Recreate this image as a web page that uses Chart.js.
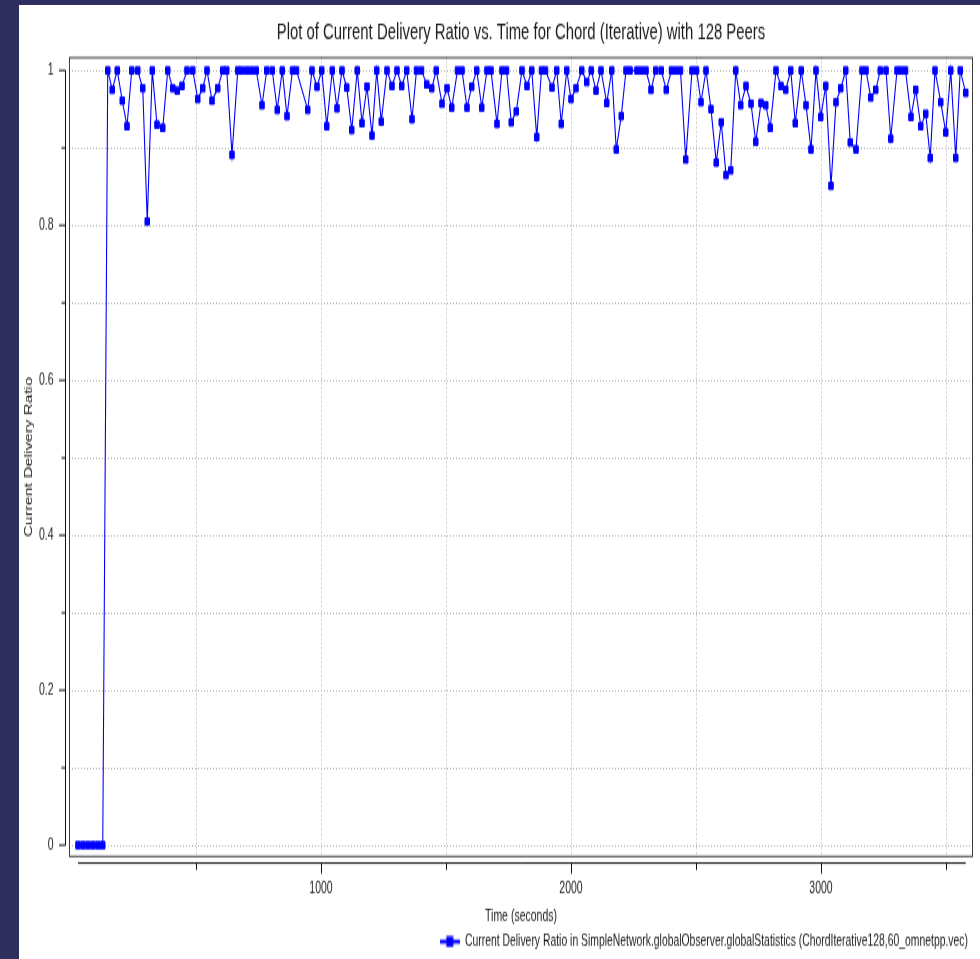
<!DOCTYPE html>
<html>
<head>
<meta charset="utf-8">
<title>Current Delivery Ratio vs. Time</title>
<script src="https://cdn.jsdelivr.net/npm/chart.js@4.4.1/dist/chart.umd.min.js"></script>
<style>
  html, body { margin: 0; padding: 0; width: 980px; height: 959px; overflow: hidden; background: #2f2f5f; }
  #sheet { position: absolute; left: 19px; top: 5px; right: 0; bottom: 0; background: #ffffff; overflow: hidden; }
  /* the plot is laid out on a short canvas and shown stretched vertically */
  #plot { transform: scaleY(1.55); transform-origin: 0 0; }
  canvas { display: block; }
</style>
</head>
<body>
<div id="sheet"><div id="plot"><canvas id="chart" width="961" height="620"></canvas></div></div>
<script>
// Recorded vector: simulation time (s) and current delivery ratio
const timeSec = [
  28, 48, 68, 88, 108, 127,
  147, 165, 185, 205, 224, 243, 267, 287, 305, 325,
  344, 367, 387, 407, 425, 444, 464, 487, 507, 527,
  544, 564, 587, 607, 623, 644, 667, 683, 703, 722,
  741, 764, 783, 805, 825, 845, 864, 886, 902, 947,
  964, 984, 1003, 1023, 1045, 1064, 1084, 1103, 1123, 1145,
  1164, 1184, 1204, 1223, 1241, 1264, 1284, 1304, 1323, 1343,
  1364, 1382, 1402, 1423, 1443, 1461, 1484, 1504, 1523, 1546,
  1564, 1584, 1603, 1623, 1643, 1664, 1680, 1704, 1724, 1742,
  1761, 1781, 1804, 1824, 1843, 1863, 1882, 1898, 1924, 1943,
  1961, 1983, 2000, 2020, 2043, 2063, 2081, 2100, 2120, 2143,
  2163, 2181, 2201, 2220, 2236, 2264, 2282, 2300, 2320, 2339,
  2361, 2381, 2402, 2420, 2438, 2459, 2484, 2502, 2520, 2540,
  2560, 2581, 2601, 2620, 2639, 2659, 2679, 2700, 2720, 2739,
  2760, 2779, 2797, 2820, 2840, 2859, 2879, 2897, 2921, 2940,
  2960, 2980, 2999, 3019, 3040, 3060, 3079, 3099, 3117, 3140,
  3164, 3180, 3199, 3219, 3237, 3260, 3279, 3304, 3320, 3338,
  3360, 3379, 3399, 3419, 3437, 3456, 3479, 3499, 3519, 3539,
  3557, 3579
];
const deliveryRatio = [
  0, 0, 0, 0, 0, 0,
  1, 0.975, 1, 0.961, 0.928, 1, 1, 0.977, 0.805, 1,
  0.930, 0.926, 1, 0.977, 0.974, 0.980, 1, 1, 0.963, 0.977,
  1, 0.961, 0.977, 1, 1, 0.891, 1, 1, 1, 1,
  1, 0.955, 1, 1, 0.949, 1, 0.941, 1, 1, 0.949,
  1, 0.979, 1, 0.928, 1, 0.951, 1, 0.978, 0.923, 1,
  0.932, 0.979, 0.916, 1, 0.934, 1, 0.980, 1, 0.980, 1,
  0.937, 1, 1, 0.982, 0.977, 1, 0.957, 0.977, 0.952, 1,
  1, 0.952, 0.979, 1, 0.952, 1, 1, 0.931, 1, 1,
  0.933, 0.947, 1, 0.980, 1, 0.914, 1, 1, 0.978, 1,
  0.931, 1, 0.963, 0.977, 1, 0.985, 1, 0.974, 1, 0.958,
  1, 0.898, 0.941, 1, 1, 1, 1, 1, 0.975, 1,
  1, 0.975, 1, 1, 1, 0.885, 1, 1, 0.959, 1,
  0.950, 0.881, 0.933, 0.865, 0.871, 1, 0.955, 0.980, 0.957, 0.908,
  0.958, 0.955, 0.926, 1, 0.980, 0.975, 1, 0.932, 1, 0.955,
  0.898, 1, 0.940, 0.980, 0.851, 0.959, 0.977, 1, 0.907, 0.898,
  1, 1, 0.965, 0.975, 1, 1, 0.912, 1, 1, 1,
  0.940, 0.975, 0.928, 0.944, 0.887, 1, 0.959, 0.920, 1, 0.887,
  1, 0.971
];

// Axis ticks and labels
const xTickValues = [500, 1000, 1500, 2000, 2500, 3000, 3500];
const xTickLabels = ['', '1000', '', '2000', '', '3000', ''];
const yTickValues = [0, 0.1, 0.2, 0.3, 0.4, 0.5, 0.6, 0.7, 0.8, 0.9, 1];
const yTickLabels = ['0', '', '0.2', '', '0.4', '', '0.6', '', '0.8', '', '1'];

// Visible ranges of the plot frame
const xRange = [-8, 3608];
const yRange = [-0.0155, 1.0174];

const chartTitle = 'Plot of Current Delivery Ratio vs. Time for Chord (Iterative) with 128 Peers';
const xTitle = 'Time (seconds)';
const yTitle = 'Current Delivery Ratio';
const seriesLabel = 'Current Delivery Ratio in SimpleNetwork.globalObserver.globalStatistics (ChordIterative128,60_omnetpp.vec)';

const INK = '#1c1c1c';
const SERIES_BLUE = '#0000ff';
const GRID_GREY = '#b2b2b2';

Chart.defaults.font.family = "'Liberation Sans', Arial, Helvetica, sans-serif";
Chart.defaults.color = INK;

// Legend symbol: line with a square marker
const legendIcon = (() => {
  const c = document.createElement('canvas');
  c.width = 20; c.height = 8;
  const g = c.getContext('2d');
  g.fillStyle = SERIES_BLUE;
  g.fillRect(0, 2.75, 20, 2.5);
  g.fillRect(6.5, 0.5, 7, 7);
  return c;
})();

// Plot frame plus the detached axis lines that span only the data range
const axesFrame = {
  id: 'axesFrame',
  beforeDatasetsDraw(chart) {
    const { ctx, chartArea: a, scales: { x, y } } = chart;
    ctx.save();
    ctx.strokeStyle = '#3c3c3c';
    ctx.lineWidth = 1;
    ctx.strokeRect(a.left + 0.5, a.top + 0.5, a.right - a.left - 1, a.bottom - a.top - 1);

    ctx.strokeStyle = '#111111';
    ctx.beginPath();
    // vertical axis
    const ax = a.left - 3.5;
    ctx.moveTo(ax, y.getPixelForValue(Math.min(...deliveryRatio)));
    ctx.lineTo(ax, y.getPixelForValue(Math.max(...deliveryRatio)));
    y.ticks.forEach((t, i) => {
      const py = y.getPixelForValue(t.value);
      ctx.moveTo(ax, py);
      ctx.lineTo(ax - (yTickLabels[i] ? 6.5 : 4), py);
    });
    // horizontal axis
    const ay = a.bottom + 3.8;
    ctx.moveTo(x.getPixelForValue(timeSec[0]), ay);
    ctx.lineTo(x.getPixelForValue(timeSec[timeSec.length - 1]), ay);
    x.ticks.forEach((t, i) => {
      const px = Math.round(x.getPixelForValue(t.value)) + 0.5;
      ctx.moveTo(px, ay);
      ctx.lineTo(px, ay + (xTickLabels[i] ? 6.8 : 4.5));
    });
    ctx.stroke();
    ctx.restore();
  }
};

new Chart(document.getElementById('chart'), {
  type: 'line',
  data: {
    datasets: [{
      label: seriesLabel,
      data: timeSec.map((t, i) => ({ x: t, y: deliveryRatio[i] })),
      borderColor: SERIES_BLUE,
      backgroundColor: SERIES_BLUE,
      borderWidth: 1.1,
      pointStyle: 'rect',
      pointRadius: 3.2,
      pointBorderWidth: 1,
      pointBorderColor: SERIES_BLUE,
      pointBackgroundColor: SERIES_BLUE,
      tension: 0,
      fill: false
    }]
  },
  options: {
    responsive: false,
    animation: false,
    events: [],
    layout: { padding: { top: 0, right: 7, bottom: 0.5, left: 0 } },
    plugins: {
      title: {
        display: true,
        text: chartTitle,
        fullSize: false,
        color: INK,
        font: { size: 14.9, weight: 'normal' },
        padding: { top: 8.5, bottom: 7.1 }
      },
      legend: {
        position: 'bottom',
        align: 'end',
        fullSize: false,
        labels: {
          usePointStyle: true,
          pointStyle: legendIcon,
          pointStyleWidth: 20,
          boxHeight: 8,
          padding: 5,
          color: INK,
          font: { size: 10.4 }
        }
      },
      tooltip: { enabled: false }
    },
    scales: {
      x: {
        type: 'linear',
        min: xRange[0],
        max: xRange[1],
        afterBuildTicks: s => { s.ticks = xTickValues.map(v => ({ value: v })); },
        afterFit: s => { s.height = 44.3; },
        grid: { color: GRID_GREY, lineWidth: 1, drawTicks: false },
        border: { display: false, dash: [1, 2] },
        ticks: {
          padding: 13.7,
          autoSkip: false,
          maxRotation: 0,
          color: INK,
          font: { size: 10.5 },
          callback: (v, i) => xTickLabels[i]
        },
        title: {
          display: true,
          text: xTitle,
          color: INK,
          font: { size: 10.5 },
          padding: { top: 0, bottom: 0 }
        }
      },
      y: {
        type: 'linear',
        min: yRange[0],
        max: yRange[1],
        afterBuildTicks: s => { s.ticks = yTickValues.map(v => ({ value: v })); },
        afterFit: s => { s.width = 50; },
        grid: { color: GRID_GREY, lineWidth: 1, drawTicks: false },
        border: { display: false, dash: [1, 2] },
        ticks: {
          padding: 15.5,
          autoSkip: false,
          color: INK,
          font: { size: 10.5 },
          callback: (v, i) => yTickLabels[i]
        },
        title: {
          display: true,
          text: yTitle,
          color: INK,
          font: { size: 10.5 },
          padding: { top: 3.7, bottom: 0 }
        }
      }
    }
  },
  plugins: [axesFrame]
});
</script>
</body>
</html>
